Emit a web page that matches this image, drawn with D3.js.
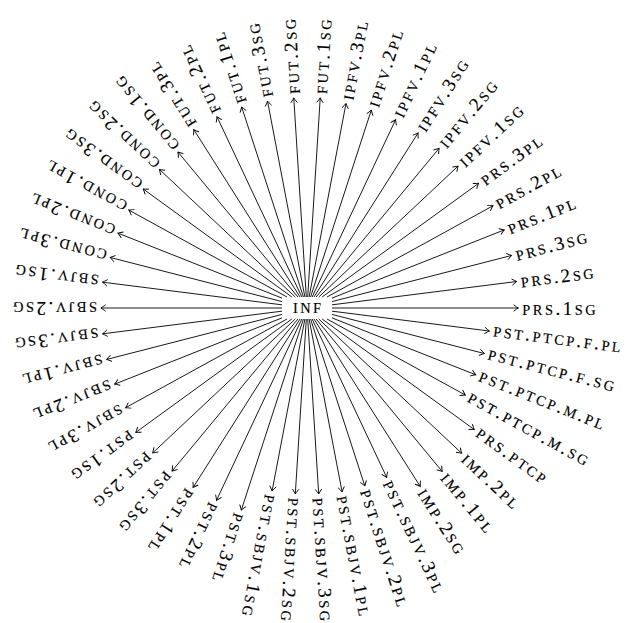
<!DOCTYPE html>
<html lang="en">
  <head>
    <meta charset="UTF-8" />
    <title>INF radial</title>
    <script src="https://d3js.org/d3.v7.min.js"></script>
    <style>
      body { margin: 0; background: #fff; }
      svg text {
        font-family: "Liberation Serif", "DejaVu Serif", serif;
        letter-spacing: 2.5px;
        fill: #000;
        stroke: #000;
        stroke-width: 0.15px;
      }
      .sc { font-size: 14.4px; }
      .full { font-size: 19px; }
    </style>
  </head>
  <body>
    <script>
      // central form
      const centerLabel = "inf";

      // forms, counter-clockwise starting at the right
      const forms = [
        "prs.1sg", "prs.2sg", "prs.3sg", "prs.1pl", "prs.2pl", "prs.3pl",
        "ipfv.1sg", "ipfv.2sg", "ipfv.3sg", "ipfv.1pl", "ipfv.2pl", "ipfv.3pl",
        "fut.1sg", "fut.2sg", "fut.3sg", "fut.1pl", "fut.2pl", "fut.3pl",
        "cond.1sg", "cond.2sg", "cond.3sg", "cond.1pl", "cond.2pl", "cond.3pl",
        "sbjv.1sg", "sbjv.2sg", "sbjv.3sg", "sbjv.1pl", "sbjv.2pl", "sbjv.3pl",
        "pst.1sg", "pst.2sg", "pst.3sg", "pst.1pl", "pst.2pl", "pst.3pl",
        "pst.sbjv.1sg", "pst.sbjv.2sg", "pst.sbjv.3sg", "pst.sbjv.1pl", "pst.sbjv.2pl", "pst.sbjv.3pl",
        "imp.2sg", "imp.1pl", "imp.2pl",
        "prs.ptcp",
        "pst.ptcp.m.sg", "pst.ptcp.m.pl", "pst.ptcp.f.sg", "pst.ptcp.f.pl"
      ];

      const width = 630, height = 623;
      const cx = 307, cy = 308;
      const labelRadius = 252;
      const pad = 4;
      const boxW = 25, boxH = 11;
      const spacing = 2.5;

      const svg = d3.select("body").append("svg")
        .attr("width", width)
        .attr("height", height);

      svg.append("defs").append("marker")
        .attr("id", "tip")
        .attr("markerUnits", "userSpaceOnUse")
        .attr("viewBox", "-6 -4 8 8")
        .attr("refX", 0).attr("refY", 0)
        .attr("markerWidth", 8).attr("markerHeight", 8)
        .attr("orient", "auto")
        .append("path")
        .attr("d", "M-4.5,-3 Q-1.2,-0.6 0,0 Q-1.2,0.6 -4.5,3")
        .attr("fill", "none")
        .attr("stroke", "#000")
        .attr("stroke-width", 0.9)
        .attr("stroke-linecap", "round");

      // angle scale (degrees, counter-clockwise)
      const angle = d3.scaleLinear().domain([0, forms.length]).range([0, 360]);

      const g = svg.append("g").attr("transform", `translate(${cx},${cy})`);

      // fake small caps: letters as smaller capitals, digits and dots full size
      function smallCaps(sel) {
        sel.each(function (d) {
          const t = d3.select(this);
          const runs = d.match(/[a-z]+|[^a-z]+/g);
          runs.forEach(r => {
            const isSc = /[a-z]/.test(r);
            t.append("tspan")
              .attr("class", isSc ? "sc" : "full")
              .text(isSc ? r.toUpperCase() : r);
          });
        });
      }

      const labels = g.selectAll("text.form")
        .data(forms)
        .join("text")
        .attr("class", "form")
        .attr("dy", d => /\d/.test(d) ? 6.5 : 4.8)
        .attr("transform", (d, i) => `rotate(${-angle(i)})`)
        .call(smallCaps);

      // start on the border of the centre box, stop at the label's box
      function boxEdge(a) {
        const c = Math.abs(Math.cos(a)), s = Math.abs(Math.sin(a));
        return Math.min(c > 1e-9 ? boxW / c : Infinity, s > 1e-9 ? boxH / s : Infinity);
      }

      labels.each(function (d, i) {
        const w = this.getComputedTextLength() - spacing;
        const a = angle(i) * Math.PI / 180;
        d3.select(this).attr("x", labelRadius - w / 2);
        const r0 = boxEdge(a);
        const r1 = labelRadius - w / 2 - pad;
        g.insert("line", "text")
          .attr("x1", r0 * Math.cos(a))
          .attr("y1", -r0 * Math.sin(a))
          .attr("x2", r1 * Math.cos(a))
          .attr("y2", -r1 * Math.sin(a))
          .attr("stroke", "#000")
          .attr("stroke-width", 0.9)
          .attr("marker-end", "url(#tip)");
      });

      const centre = g.append("text")
        .attr("dy", 4.8)
        .datum(centerLabel)
        .call(smallCaps);
      const cw = centre.node().getComputedTextLength() - spacing;
      centre.attr("x", -cw / 2);
    </script>
  </body>
</html>
